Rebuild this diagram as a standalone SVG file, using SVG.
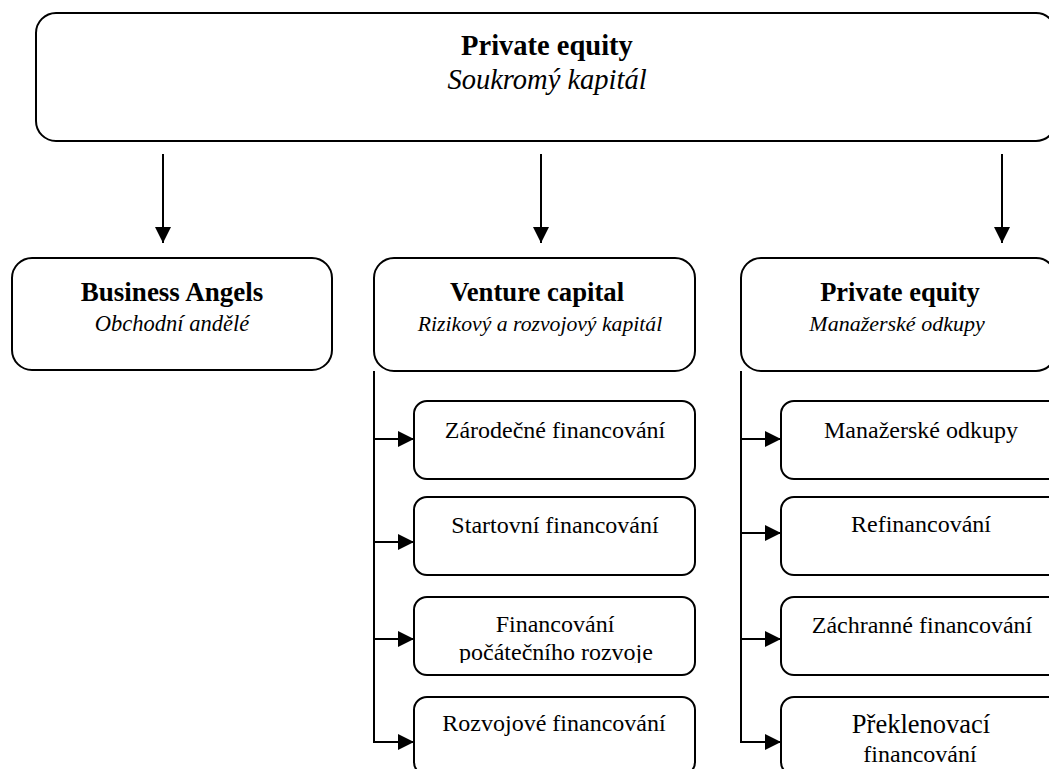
<svg xmlns="http://www.w3.org/2000/svg" width="1049" height="769" viewBox="0 0 1049 769">
<style>
.box{fill:#fff;stroke:#000;stroke-width:2}
.ln{fill:none;stroke:#000;stroke-width:2}
.t{font-family:"Liberation Serif","Times New Roman",serif;fill:#000;text-anchor:middle}
.b{font-weight:bold}
.i{font-style:italic}
</style>
<defs>
<marker id="ah" markerWidth="16" markerHeight="16" viewBox="0 0 16 16" refX="16" refY="8" orient="auto" markerUnits="userSpaceOnUse">
<path d="M0,0 L16,8 L0,16 Z" fill="#000"/>
</marker>
<clipPath id="clipFin"><rect x="414" y="597" width="281" height="66"/></clipPath>
</defs>
<rect width="1049" height="769" fill="#fff"/>
<g id="connectors">
<line class="ln" x1="163" y1="154" x2="163" y2="243" marker-end="url(#ah)"/>
<line class="ln" x1="541" y1="154" x2="541" y2="243" marker-end="url(#ah)"/>
<line class="ln" x1="1002" y1="154" x2="1002" y2="243" marker-end="url(#ah)"/>
<polyline class="ln" points="374,371 374,742"/>
<line class="ln" x1="373" y1="439" x2="414" y2="439" marker-end="url(#ah)"/>
<line class="ln" x1="373" y1="542" x2="414" y2="542" marker-end="url(#ah)"/>
<line class="ln" x1="373" y1="639" x2="414" y2="639" marker-end="url(#ah)"/>
<line class="ln" x1="373" y1="742" x2="414" y2="742" marker-end="url(#ah)"/>
<polyline class="ln" points="741,371 741,742"/>
<line class="ln" x1="740" y1="439" x2="781" y2="439" marker-end="url(#ah)"/>
<line class="ln" x1="740" y1="533" x2="781" y2="533" marker-end="url(#ah)"/>
<line class="ln" x1="740" y1="639" x2="781" y2="639" marker-end="url(#ah)"/>
<line class="ln" x1="740" y1="742" x2="781" y2="742" marker-end="url(#ah)"/>
</g>
<g id="top">
<rect class="box" x="36" y="13" width="1020" height="128" rx="20"/>
<text class="t b" x="547" y="55" font-size="28.5">Private equity</text>
<text class="t i" x="547" y="89" font-size="28.5">Soukromý kapitál</text>
</g>
<g id="business-angels">
<rect class="box" x="12" y="258" width="320" height="112" rx="20"/>
<text class="t b" x="172" y="301" font-size="27">Business Angels</text>
<text class="t i" x="172" y="331" font-size="22.5">Obchodní andělé</text>
</g>
<g id="venture-capital">
<rect class="box" x="374" y="258" width="321" height="113" rx="20"/>
<text class="t b" x="537" y="301" font-size="26.7">Venture capital</text>
<text class="t i" x="540" y="331" font-size="21.7">Rizikový a rozvojový kapitál</text>
</g>
<g id="private-equity">
<rect class="box" x="741" y="258" width="315" height="113" rx="20"/>
<text class="t b" x="900" y="301" font-size="26.5">Private equity</text>
<text class="t i" x="897" y="331" font-size="22">Manažerské odkupy</text>
</g>
<g id="vc1">
<rect class="box" x="414" y="401" width="281" height="78" rx="13"/>
<text class="t" x="555" y="438" font-size="24">Zárodečné financování</text>
</g>
<g id="vc2">
<rect class="box" x="414" y="497" width="281" height="78" rx="13"/>
<text class="t" x="555" y="533" font-size="24">Startovní financování</text>
</g>
<g id="vc3">
<rect class="box" x="414" y="597" width="281" height="78" rx="13"/>
<g clip-path="url(#clipFin)">
<text class="t" x="555" y="632" font-size="24">Financování</text>
<text class="t" x="556" y="660" font-size="24">počátečního rozvoje</text>
</g>
</g>
<g id="vc4">
<rect class="box" x="414" y="697" width="281" height="78" rx="13"/>
<text class="t" x="554" y="731" font-size="24">Rozvojové financování</text>
</g>
<g id="pe1">
<rect class="box" x="781" y="401" width="280" height="78" rx="13"/>
<text class="t" x="921" y="438" font-size="24">Manažerské odkupy</text>
</g>
<g id="pe2">
<rect class="box" x="781" y="497" width="280" height="78" rx="13"/>
<text class="t" x="921" y="532" font-size="24">Refinancování</text>
</g>
<g id="pe3">
<rect class="box" x="781" y="597" width="280" height="78" rx="13"/>
<text class="t" x="922" y="633" font-size="24">Záchranné financování</text>
</g>
<g id="pe4">
<rect class="box" x="781" y="697" width="280" height="78" rx="13"/>
<text class="t" x="921" y="733" font-size="26.5">Překlenovací</text>
<text class="t" x="920" y="762" font-size="24">financování</text>
</g>
</svg>
